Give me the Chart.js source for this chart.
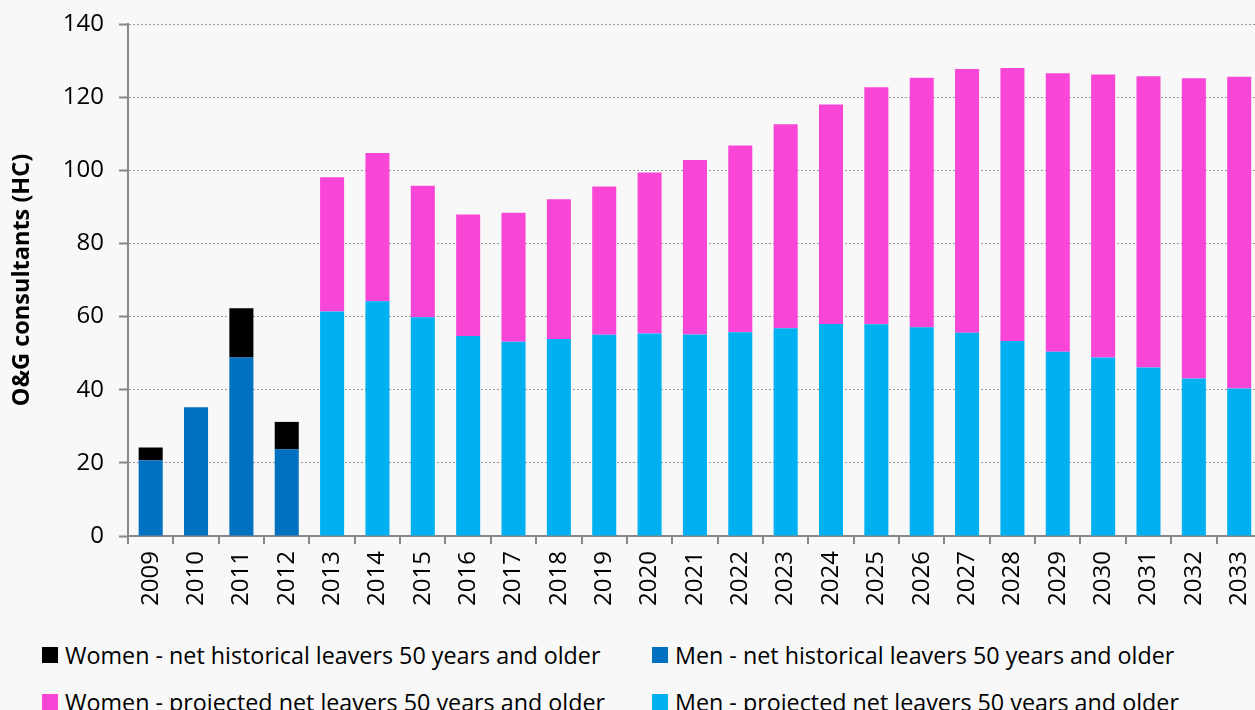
<!DOCTYPE html>
<html>
<head>
<meta charset="utf-8">
<script src="https://cdn.jsdelivr.net/npm/chart.js@4.4.1/dist/chart.umd.min.js"></script>
<style>
  body { margin: 0; background: #f8f8f8; overflow: hidden; }
  #wrap { position: relative; width: 1255px; height: 710px; overflow: hidden; }
  #chart { position: absolute; left: 0; top: 0; }
  .leg { position: absolute; font-family: "Open Sans", sans-serif; font-size: 23.3px; color: #000; white-space: nowrap; line-height: 16px; }
  .leg span.box { display: inline-block; width: 16px; height: 16px; vertical-align: top; margin-right: 7px; }
</style>
</head>
<body>
<div id="wrap">
  <canvas id="chart" width="1275" height="630"></canvas>
</div>
<script>
var years = ["2009","2010","2011","2012","2013","2014","2015","2016","2017","2018","2019","2020","2021",
  "2022","2023","2024","2025","2026","2027","2028","2029","2030","2031","2032","2033"];

var menHistorical = [20.7, 35.2, 48.8, 23.7, null, null, null, null, null, null, null, null, null,
  null, null, null, null, null, null, null, null, null, null, null, null];
var womenHistorical = [3.5, 0, 13.5, 7.5, null, null, null, null, null, null, null, null, null,
  null, null, null, null, null, null, null, null, null, null, null, null];
var menProjected = [null, null, null, null, 61.4, 64.2, 59.8, 54.7, 53.1, 53.9, 55.0, 55.4, 55.1,
  55.7, 56.8, 58.0, 57.9, 57.1, 55.6, 53.3, 50.4, 48.8, 46.1, 43.1, 40.3];
var womenProjected = [null, null, null, null, 36.7, 40.5, 36.0, 33.2, 35.3, 38.2, 40.6, 44.0, 47.7,
  51.1, 55.8, 60.0, 64.8, 68.2, 72.1, 74.7, 76.1, 77.4, 79.6, 82.1, 85.3];

var yTicks = [0, 20, 40, 60, 80, 100, 120, 140];

var labels = {
  womenHist: "Women - net historical leavers 50 years and older",
  menHist: "Men - net historical leavers 50 years and older",
  womenProj: "Women - projected net leavers 50 years and older",
  menProj: "Men - projected net leavers 50 years and older"
};
var colors = { womenHist: "#000000", menHist: "#0070C0", womenProj: "#F946D6", menProj: "#00B0F0" };

var font = "'Open Sans', sans-serif";

function bar(key, data) {
  return {
    label: labels[key],
    data: data,
    backgroundColor: colors[key],
    borderWidth: 0,
    barPercentage: 0.53,
    categoryPercentage: 1.0
  };
}

var ctx = document.getElementById("chart").getContext("2d");
var myChart = new Chart(ctx, {
  type: "bar",
  data: {
    labels: years,
    datasets: [
      bar("menHist", menHistorical),
      bar("womenHist", womenHistorical),
      bar("menProj", menProjected),
      bar("womenProj", womenProjected)
    ]
  },
  options: {
    responsive: false,
    animation: false,
    layout: { padding: { top: 24, right: 0, left: 0, bottom: 0 } },
    plugins: { legend: { display: false }, tooltip: { enabled: false } },
    scales: {
      x: {
        stacked: true,
        grid: { drawOnChartArea: false, drawTicks: true, tickLength: 8, color: "#888", lineWidth: 2, offset: true },
        border: { color: "#888", width: 2 },
        ticks: { color: "#000", font: { family: font, size: 24 }, minRotation: 90, maxRotation: 90, padding: 7, autoSkip: false },
        afterFit: function (s) { s.height = 94; }
      },
      y: {
        stacked: true,
        min: 0,
        max: 140,
        afterBuildTicks: function (s) { s.ticks = yTicks.map(function (v) { return { value: v }; }); },
        grid: { color: "#999", lineWidth: 1, tickLength: 9, tickColor: "#888", tickWidth: 2 },
        border: { color: "#888", width: 2, dash: [2, 2] },
        ticks: { color: "#000", font: { family: font, size: 24 }, padding: 15 },
        title: { display: true, text: "O&G consultants (HC)", color: "#000", font: { family: font, size: 23.5, weight: "bold" }, padding: { top: 8, bottom: 4 } },
        afterFit: function (s) { s.width = 128; s.paddingTop = 0; s.paddingBottom = 0; }
      }
    }
  }
});

// legend in the reference order, two columns
var order = [["womenHist", 42, 647], ["menHist", 652, 647], ["womenProj", 42, 694], ["menProj", 652, 694]];
var wrap = document.getElementById("wrap");
order.forEach(function (o) {
  var d = document.createElement("div");
  d.className = "leg";
  d.style.left = o[1] + "px";
  d.style.top = o[2] + "px";
  d.innerHTML = '<span class="box" style="background:' + colors[o[0]] + '"></span>' + labels[o[0]];
  wrap.appendChild(d);
});
</script>
</body>
</html>
